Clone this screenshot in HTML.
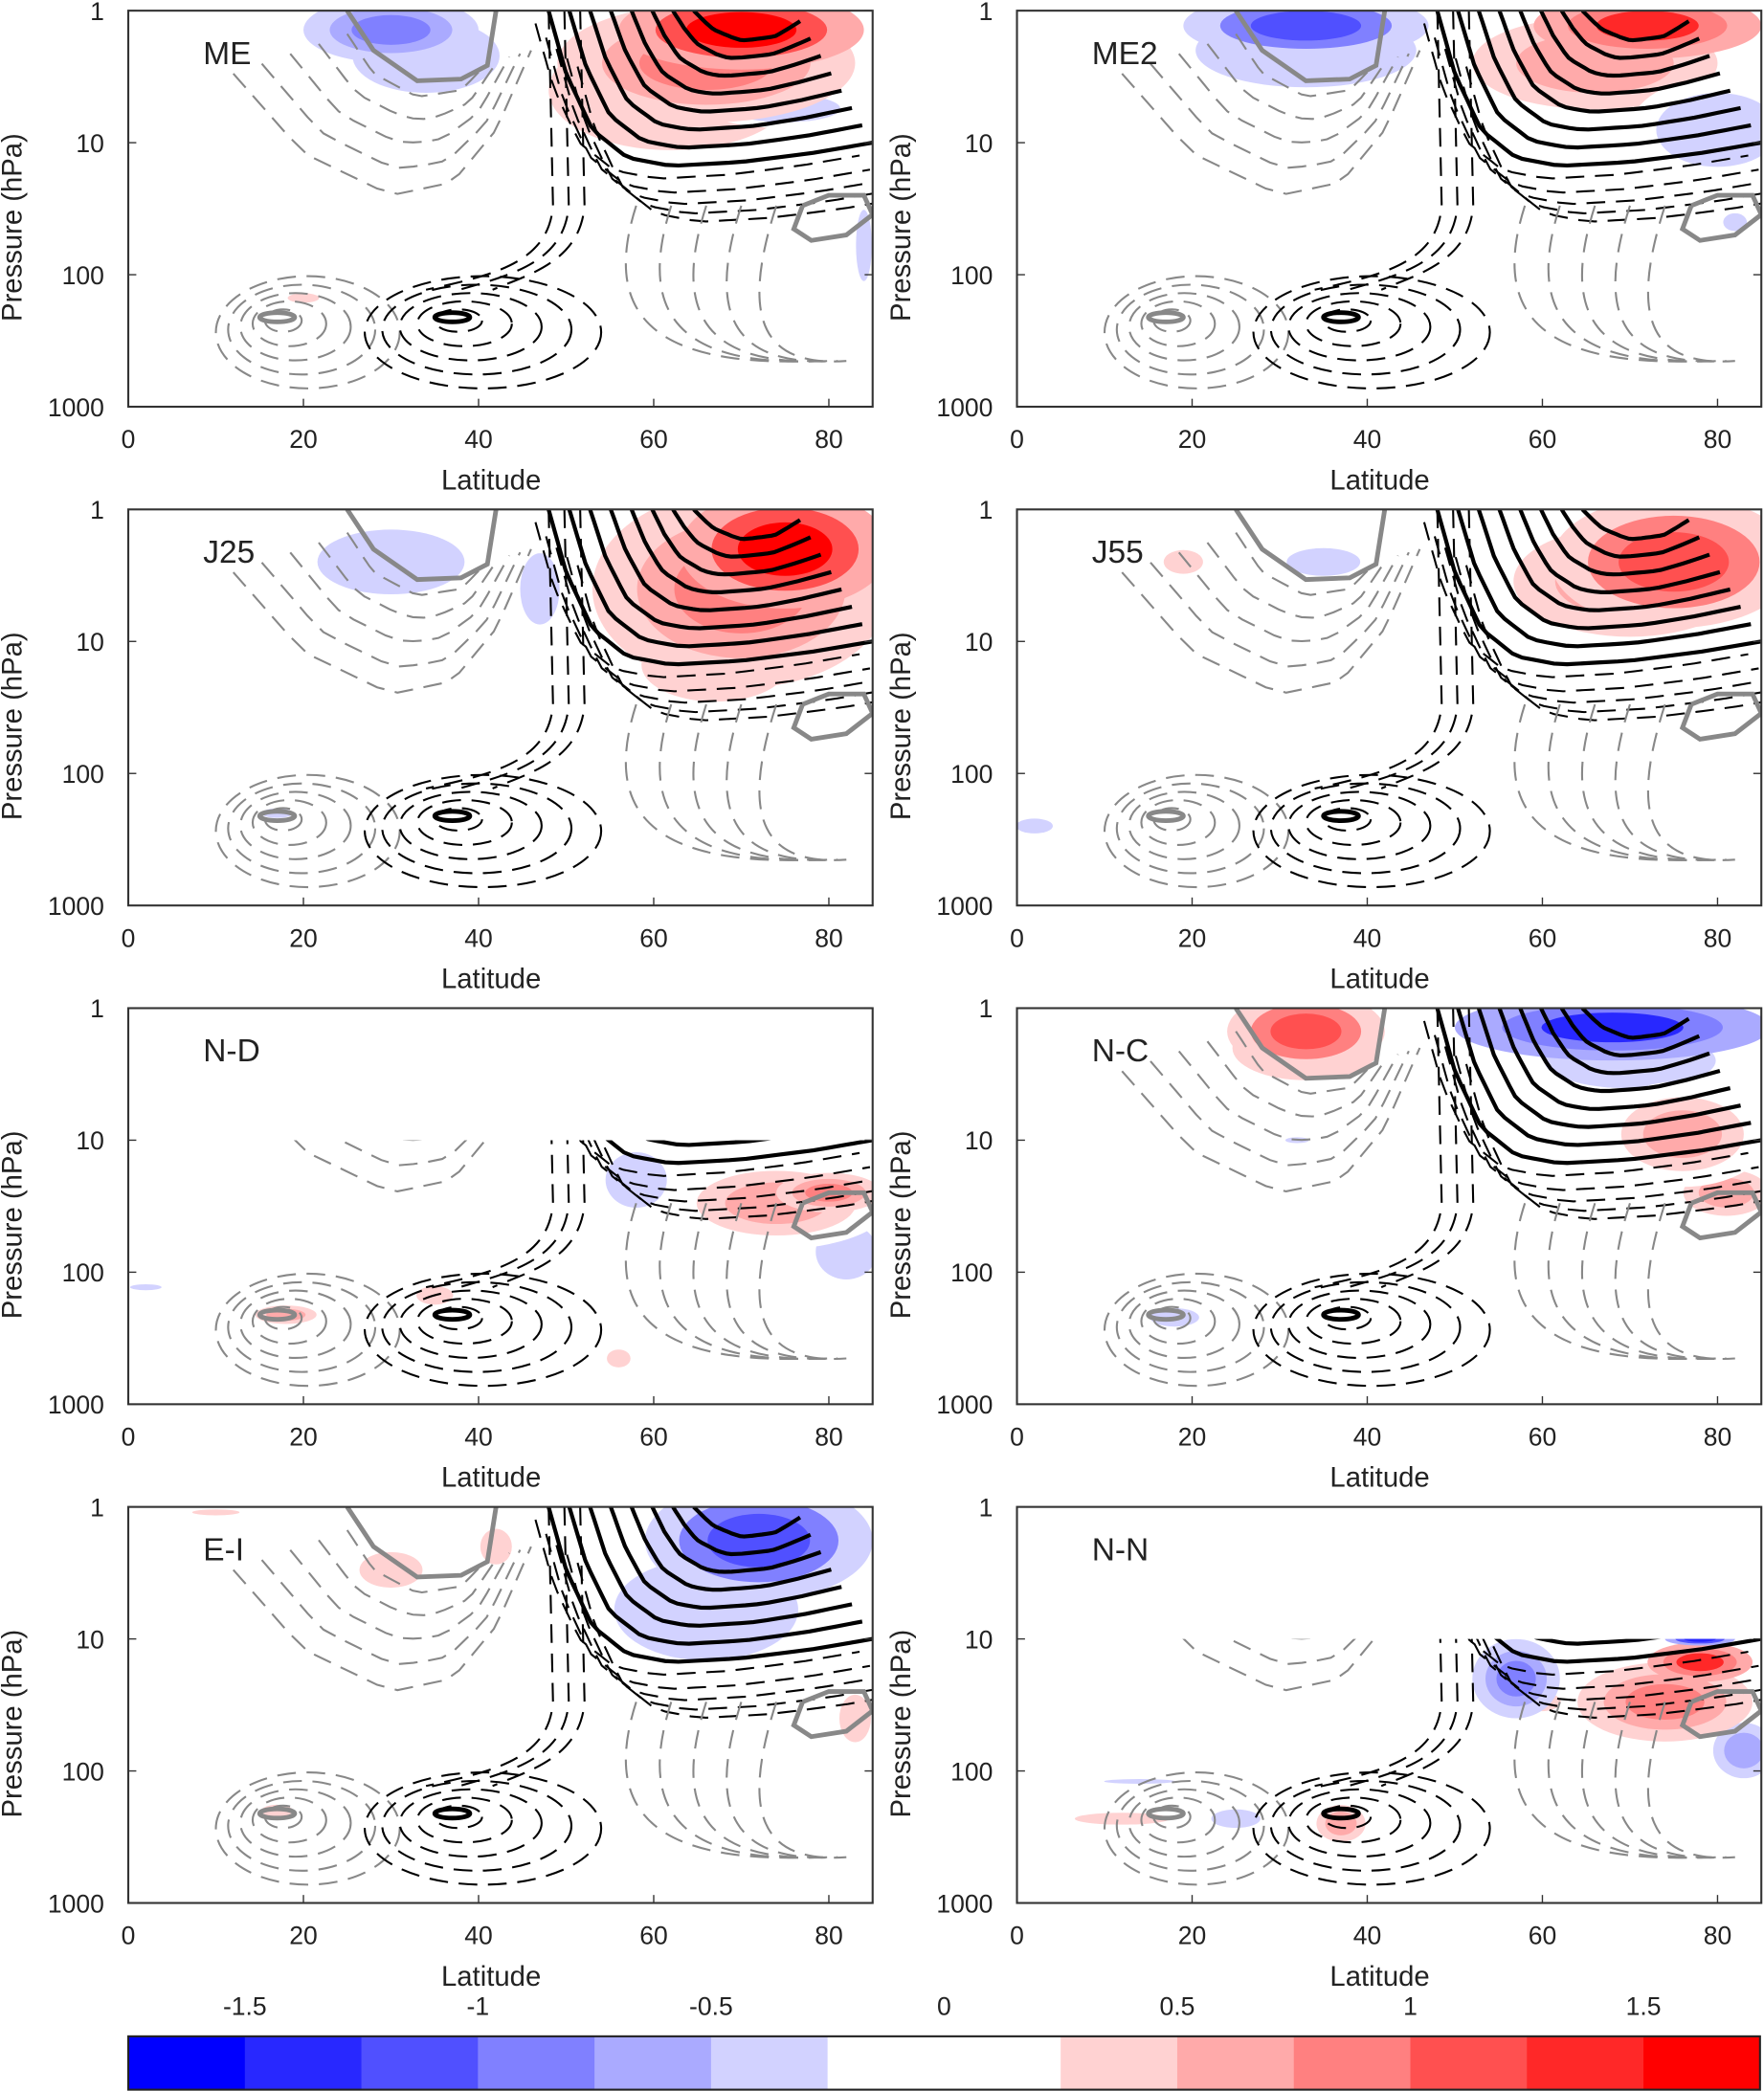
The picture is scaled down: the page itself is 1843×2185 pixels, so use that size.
<!DOCTYPE html>
<html><head><meta charset="utf-8"><style>
html,body{margin:0;padding:0;background:#fff}
svg{display:block}
text{font-family:"Liberation Sans",sans-serif;fill:#222}
</style></head><body>
<svg id="fig" width="1843" height="2185" viewBox="0 0 1320 1568" preserveAspectRatio="none" xmlns="http://www.w3.org/2000/svg">
<defs id="defs"></defs>
<g id="root"></g>
</svg>
<script>
// ---------- data ----------
const panelNames = ["ME","ME2","J25","J55","N-D","N-C","E-I","N-N"];
const latTicks = [0,20,40,60,80];
const presTicks = [1,10,100,1000];
const cbarLabels = ["-1.5","-1","-0.5","0","0.5","1","1.5"];
const cbarValues = [-1.5,-1,-0.5,0,0.5,1,1.5];
const levels = [-1.75,-1.5,-1.25,-1,-0.75,-0.5,-0.25,0,0.25,0.5,0.75,1,1.25,1.5,1.75];
const levelColors = ['#0000ff','#2828ff','#5050ff','#8080ff','#aaaaff','#d2d2ff','#ffffff','#ffffff','#ffd2d2','#ffaaaa','#ff8080','#ff5050','#ff2828','#ff0000'];
const lowCut = [false,false,false,false,true,false,false,true]; // data only below 10 hPa
// anomaly blobs: [lat, pressure, lat half-width, half-height (decades), value]
const blobsME  = [[70,1.4,14,0.3,1.6],[66,2.5,17,0.45,0.9],[62,4,20,0.65,0.4],[30,1.4,10,0.25,-0.9],[34,2.2,12,0.4,-0.4],[75,5.5,9,0.15,-0.4],[20,150,4,0.08,0.3],[84,60,2,0.6,-0.3]];
const blobsME2 = [[72,1.3,13,0.25,1.3],[66,2.5,20,0.5,0.5],[33,1.3,14,0.25,-1.1],[33,2,18,0.4,-0.4],[80,8,10,0.4,-0.5],[82,40,3,0.15,-0.3]];
const blobsJ25 = [[75,2,12,0.45,1.7],[70,4,17,0.75,0.9],[67,15,12,0.4,0.4],[30,2.5,12,0.35,-0.4],[47,4,5,0.6,-0.3],[17,200,4,0.08,-0.3]];
const blobsJ55 = [[75,2.5,14,0.5,1.1],[70,3.5,19,0.6,0.5],[35,2.5,6,0.15,-0.4],[19,2.5,5,0.2,0.3],[2,250,3,0.08,-0.4]];
const blobsND  = [[74,30,13,0.35,0.6],[80,25,6,0.15,0.9],[58,20,5,0.3,-0.5],[82,70,5,0.3,-0.4],[18,210,5,0.1,0.5],[35,150,3,0.1,0.4],[56,450,3,0.15,0.3],[2,130,4,0.05,-0.3]];
const blobsNC  = [[68,1.4,18,0.25,-1.3],[70,2.5,14,0.3,-0.5],[33,1.5,9,0.3,1.1],[33,2,12,0.35,0.5],[76,9,10,0.4,0.6],[81,25,7,0.25,0.5],[18,220,4,0.1,-0.5],[32,10,3,0.05,-0.3]];
const blobsEI  = [[72,1.8,13,0.45,-1.2],[66,6,15,0.55,-0.5],[30,3,8,0.3,0.3],[42,2,4,0.3,0.3],[17,200,4,0.1,0.3],[83,40,4,0.4,0.3],[10,1.1,6,0.05,0.3]];
const blobsNN  = [[74,30,10,0.3,0.8],[78,15,6,0.15,1.3],[57,20,5,0.3,-0.8],[83,70,5,0.3,-0.6],[78,10,4,0.05,-1.5],[12,230,12,0.1,0.3],[37,250,4,0.2,0.5],[25,230,4,0.1,-0.5],[14,120,9,0.04,-0.3],[60,30,3,0.1,0.4]];
const panelBlobs = [blobsME,blobsME2,blobsJ25,blobsJ55,blobsND,blobsNC,blobsEI,blobsNN];
// climatology contours: [lat, pressure] points
const jetOuter = [[48,1],[50,3],[53,8],[57,13],[62,15],[70,14],[78,12],[85,10]];
const jetInner = [[66,1],[68,1.2],[71,1.4],[74,1.3],[76,1]];
const grayLoopTop = [[25,1],[28,2],[33,3.4],[38,3.3],[41,2.6],[42,1]];
const grayLoopRight = [[77,30],[80,25],[84,25],[85,35],[82,50],[78,55],[76,45],[77,30]];
const stratDashOuter = [[12,3],[20,12],[30,25],[37,20],[42,8],[46,2]];
const stratDashInner = [[25,1.5],[28,3],[33,4.5],[38,4],[41,2.5]];
const subtropRings = [[17,210],[37,210]]; // centers of tropospheric rings
// ---------- helpers ----------
const NS='http://www.w3.org/2000/svg';
const root=document.getElementById('root');
const defs=document.getElementById('defs');
function mk(tag,attrs,parent){const e=document.createElementNS(NS,tag);for(const k in attrs)e.setAttribute(k,attrs[k]);(parent||root).appendChild(e);return e;}
const PW=557, PH=297;
const lefts=[96,761], tops=[8,382,756,1130];
function colorFor(v){let i=Math.floor((v+1.75)/0.25);i=Math.max(0,Math.min(13,i));return levelColors[i];}
function lerp(a,b,t){return a+(b-a)*t;}
function resample(pts,n){
  const out=[];for(let i=0;i<n;i++){const t=i/(n-1)*(pts.length-1);const k=Math.min(Math.floor(t),pts.length-2);const f=t-k;
  out.push([lerp(pts[k][0],pts[k+1][0],f),Math.pow(10,lerp(Math.log10(pts[k][1]),Math.log10(pts[k+1][1]),f))]);}return out;}

panelNames.forEach((name,idx)=>{
  const col=idx%2,row=Math.floor(idx/2);
  const x0=lefts[col], y0=tops[row];
  const X=lat=>x0+lat/85*PW;
  const Y=p=>y0+Math.log10(p)/3*PH;
  const g=mk('g',{});
  
  
  const cid2='clipb'+idx;
  const cp2=mk('clipPath',{id:cid2},defs);
  mk('rect',{x:x0,y:lowCut[idx]?Y(10):y0,width:PW,height:lowCut[idx]?Y(1000)-Y(10):PH},cp2);
  const bg=mk('g',{'clip-path':'url(#'+cid2+')'},g);
  
  
  panelBlobs[idx].slice().sort((a,b)=>Math.abs(a[4])-Math.abs(b[4])).forEach(b=>{
    const hyp=[1,0.7,0.45];
    hyp.forEach((s,j)=>{
      const v=b[4]*(0.4+0.6*(j/(hyp.length-1)));
      const e=mk('ellipse',{cx:X(b[0]),cy:Y(b[1]),rx:b[2]/85*PW*s,ry:b[3]/3*PH*s,fill:colorFor(v)},bg);
      
      
    });
  });
  const cg=mk('g',{'clip-path':'url(#'+cid2+')',fill:'none'},g);
  
  
  const A=resample(jetOuter,30),B=resample(jetInner,30);
  const nJet=8;
  for(let k=0;k<nJet;k++){const t=k/(nJet-1)*0.92;
    const d=A.map((p,i)=>{const lat=lerp(p[0],B[i][0],t),lp=lerp(Math.log10(p[1]),Math.log10(B[i][1]),t);return (i?'L':'M')+X(lat).toFixed(1)+','+Y(Math.pow(10,lp)).toFixed(1);}).join('');
    const e=mk('path',{d,stroke:'#000','stroke-width':3},cg);
    
    }
  for(let k=0;k<5;k++){
    const pts=jetOuter.map(p=>[p[0]+k*1.2-1.5,p[1]*(1.25+k*0.35)]);
    const d=resample(pts,25).map((p,i)=>(i?'L':'M')+X(p[0]).toFixed(1)+','+Y(p[1]).toFixed(1)).join('');
    const e=mk('path',{d,stroke:'#000','stroke-width':1.5,'stroke-dasharray':'14,8'},cg);
    
    }
  for(let k=0;k<3;k++){
    const lat=48+k*1.8;
    const d='M'+X(lat)+','+Y(1)+' L'+X(lat+0.5)+','+Y(30)+' C'+X(lat)+','+Y(80)+' '+X(lat-6)+','+Y(100)+' '+X(lat-14+k*2)+','+Y(130);
    const e=mk('path',{d,stroke:'#000','stroke-width':1.5,'stroke-dasharray':'14,8'},cg);
    
    }
  for(let k=0;k<5;k++){const t=k/4;
    const Aa=resample(stratDashOuter,20),Bb=resample(stratDashInner,20);
    const d=Aa.map((p,i)=>(i?'L':'M')+X(lerp(p[0],Bb[i][0],t)).toFixed(1)+','+Y(Math.pow(10,lerp(Math.log10(p[1]),Math.log10(Bb[i][1]),t))).toFixed(1)).join('');
    const e=mk('path',{d,stroke:'#888','stroke-width':1.5,'stroke-dasharray':'14,8'},cg);
    
    }
  [grayLoopTop,grayLoopRight].forEach(L=>{
    const d=L.map((p,i)=>(i?'L':'M')+X(p[0]).toFixed(1)+','+Y(p[1]).toFixed(1)).join('');
    const e=mk('path',{d,stroke:'#888','stroke-width':3.5},cg);
    
    });
  subtropRings.forEach((c,ci)=>{
    const color=ci?'#000':'#888';
    const wl=ci?2.7:2.1;
    for(let k=1;k<=5;k++){
      const e=mk('ellipse',{cx:X(c[0]+k*0.7),cy:Y(c[1]*(1+k*0.06)),rx:k*wl/85*PW,ry:k*0.085/3*PH,stroke:color,'stroke-width':1.5,'stroke-dasharray':'14,8'},cg);
      
      }
    const e=mk('ellipse',{cx:X(c[0]),cy:Y(c[1]),rx:2/85*PW,ry:0.035/3*PH,stroke:color,'stroke-width':3.5},cg);
    
    });
  for(let k=0;k<5;k++){
    const d='M'+X(58+k*4)+','+Y(30)+' C'+X(54+k*4)+','+Y(200)+' '+X(60+k*3)+','+Y(500)+' '+X(78+k)+','+Y(450);
    const e=mk('path',{d,stroke:'#888','stroke-width':1.5,'stroke-dasharray':'14,8'},cg);
    
    }
  const fr=mk('rect',{x:x0,y:y0,width:PW,height:PH,fill:'none',stroke:'#333','stroke-width':1.5},g);
  
  
  latTicks.forEach(v=>{
    mk('line',{x1:X(v),x2:X(v),y1:y0+PH,y2:y0+PH-6,stroke:'#333'},g);
    const t=mk('text',{x:X(v),y:y0+PH+31,'text-anchor':'middle','font-size':19},g);t.textContent=v;
    
    });
  presTicks.forEach(v=>{
    mk('line',{x1:x0,x2:x0+6,y1:Y(v),y2:Y(v),stroke:'#333'},g);
    mk('line',{x1:x0+PW,x2:x0+PW-6,y1:Y(v),y2:Y(v),stroke:'#333'},g);
    const t=mk('text',{x:x0-18,y:Y(v)+7,'text-anchor':'end','font-size':19},g);t.textContent=v;
    
    });
  const xl=mk('text',{x:x0+PW/2-7,y:y0+PH+62,'text-anchor':'middle','font-size':21},g);xl.textContent='Latitude';
  
  
  const yl=mk('text',{x:0,y:0,'text-anchor':'middle','font-size':21,transform:'translate('+(x0-80)+','+(y0+PH/2+14)+') rotate(-90)'},g);yl.textContent='Pressure (hPa)';
  
  
  const lb=mk('text',{x:x0+56,y:y0+40,'font-size':24,fill:'#000'},g);lb.textContent=name;
  
  
});
const cb=mk('g',{});


const cbX0=96,cbX1=1317,cbY=1527,cbH=40;
const CX=v=>cbX0+(v-levels[0])/(levels[levels.length-1]-levels[0])*(cbX1-cbX0);
levelColors.forEach((c,i)=>{
  const r=mk('rect',{x:CX(levels[i]),y:cbY,width:CX(levels[i+1])-CX(levels[i])+0.5,height:cbH,fill:c},cb);
  
  });
mk('rect',{x:cbX0,y:cbY,width:cbX1-cbX0,height:cbH,fill:'none',stroke:'#222','stroke-width':1.5},cb);
cbarValues.forEach((v,i)=>{
  const t=mk('text',{x:CX(v),y:1511,'text-anchor':'middle','font-size':19},cb);t.textContent=cbarLabels[i];
  
  });
</script>
</body></html>
